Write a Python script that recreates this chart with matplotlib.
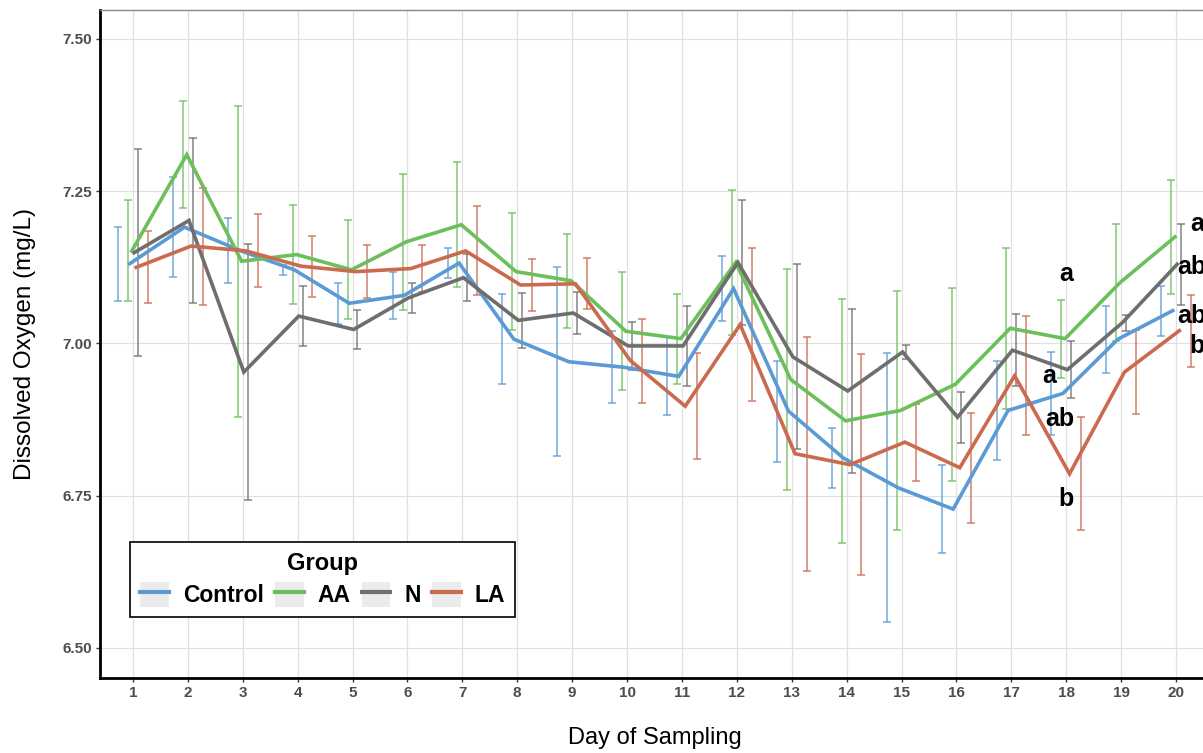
import numpy as np
import matplotlib
matplotlib.use('Agg')
import matplotlib.pyplot as plt
from matplotlib.patches import Rectangle
from matplotlib.lines import Line2D

plt.rcParams['font.family'] = ['Liberation Sans', 'DejaVu Sans']

# Datos (media y semi-amplitud de la barra de error)
days = np.arange(1, 21)
groups = ['Control', 'AA', 'N', 'LA']
colors = ['#5B9BD5', '#6CBF5A', '#6E6E6E', '#CC6A4F']

control_mean = [7.131, 7.191, 7.153, 7.121, 7.066, 7.079, 7.132, 7.007, 6.970, 6.961,
                6.946, 7.090, 6.889, 6.812, 6.763, 6.728, 6.890, 6.918, 7.007, 7.054]
control_err = [0.061, 0.082, 0.053, 0.008, 0.034, 0.039, 0.024, 0.074, 0.155, 0.059,
               0.064, 0.053, 0.083, 0.049, 0.221, 0.072, 0.081, 0.068, 0.055, 0.041]

aa_mean = [7.152, 7.310, 7.135, 7.146, 7.121, 7.167, 7.195, 7.118, 7.103, 7.020,
           7.008, 7.133, 6.941, 6.873, 6.890, 6.933, 7.025, 7.008, 7.100, 7.175]
aa_err = [0.083, 0.088, 0.255, 0.081, 0.081, 0.112, 0.103, 0.096, 0.077, 0.097,
          0.074, 0.119, 0.181, 0.200, 0.197, 0.158, 0.132, 0.064, 0.096, 0.093]

n_mean = [7.149, 7.202, 6.953, 7.045, 7.023, 7.075, 7.108, 7.038, 7.050, 6.996,
          6.996, 7.133, 6.978, 6.922, 6.986, 6.879, 6.989, 6.957, 7.034, 7.130]
n_err = [0.170, 0.136, 0.210, 0.049, 0.032, 0.025, 0.039, 0.045, 0.035, 0.040,
         0.065, 0.102, 0.152, 0.135, 0.012, 0.042, 0.059, 0.047, 0.013, 0.066]

la_mean = [7.125, 7.160, 7.152, 7.127, 7.118, 7.123, 7.152, 7.096, 7.098, 6.972,
           6.897, 7.031, 6.819, 6.801, 6.838, 6.796, 6.947, 6.786, 6.953, 7.021]
la_err = [0.059, 0.096, 0.060, 0.050, 0.043, 0.038, 0.073, 0.042, 0.042, 0.069,
          0.087, 0.125, 0.192, 0.181, 0.063, 0.090, 0.098, 0.093, 0.069, 0.059]

means = [control_mean, aa_mean, n_mean, la_mean]
errs = [control_err, aa_err, n_err, la_err]

# Letras de significancia
sig_labels = ['a', 'a', 'ab', 'b', 'a', 'ab', 'ab', 'b']
sig_x = [18.0, 17.68, 17.88, 18.0, 20.25, 20.02, 20.02, 20.25]
sig_y = [7.103, 6.935, 6.865, 6.733, 7.184, 7.114, 7.034, 6.984]
sig_ha = ['center', 'center', 'center', 'center', 'left', 'left', 'left', 'left']

bar_offsets = [-0.27, -0.09, 0.09, 0.27]
line_offsets = [-0.06, -0.02, 0.02, 0.06]

W, H = 1203, 753
fig = plt.figure(figsize=(W / 100, H / 100), dpi=100)
ax = fig.add_axes([100 / W, 75 / H, 1109 / W, 668 / H])

for m, e, c, bo in zip(means, errs, colors, bar_offsets):
    ax.errorbar(days + bo, m, yerr=e, fmt='none', ecolor=c, elinewidth=1.1,
                capsize=3, capthick=1.1, alpha=0.85, zorder=2)
for m, c, lo in zip(means, colors, line_offsets):
    ax.plot(days + lo, m, color=c, linewidth=2.6, zorder=3, solid_joinstyle='miter')

for lab, x, y, ha in zip(sig_labels, sig_x, sig_y, sig_ha):
    ax.text(x, y, lab, ha=ha, va='baseline', fontsize=18, fontweight='bold',
            color='black', clip_on=False, zorder=5)

ax.set_xlim(0.4, 20.6)
ax.set_ylim(6.4507, 7.5476)
ax.set_xticks(days)
ax.set_yticks([6.50, 6.75, 7.00, 7.25, 7.50])
ax.set_yticklabels(['6.50', '6.75', '7.00', '7.25', '7.50'])
ax.grid(True, color='#e0e0e0', linewidth=0.9)
ax.set_axisbelow(True)

for lab in ax.get_xticklabels() + ax.get_yticklabels():
    lab.set_fontweight('bold')
ax.tick_params(axis='both', labelsize=11, labelcolor='#4d4d4d', color='#333333',
               length=3, width=1, pad=3)

ax.spines['left'].set_linewidth(2)
ax.spines['left'].set_color('black')
ax.spines['bottom'].set_linewidth(2)
ax.spines['bottom'].set_color('black')
ax.spines['top'].set_linewidth(1)
ax.spines['top'].set_color('#888888')
ax.spines['right'].set_visible(False)

ax.set_xlabel('Day of Sampling', fontsize=17, labelpad=19)
ax.set_ylabel('Dissolved Oxygen (mg/L)', fontsize=17.5, labelpad=19)

handles = [(Rectangle((0, 0), 1, 1, facecolor='#ebebeb', edgecolor='none'),
            Line2D([], [], color=c, linewidth=3)) for c in colors]
leg = ax.legend(handles, groups, loc='lower left', bbox_to_anchor=(0.027, 0.091),
                borderaxespad=0, ncol=4, title='Group',
                prop={'weight': 'bold', 'size': 16.5},
                title_fontproperties={'weight': 'bold', 'size': 17},
                handlelength=1.25, handleheight=1.3, handletextpad=0.6,
                columnspacing=0.5, borderpad=0.45, labelspacing=0.3,
                fancybox=False, framealpha=1)
leg.get_frame().set_edgecolor('black')
leg.get_frame().set_linewidth(1.2)

fig.savefig('out.png', dpi=100)
